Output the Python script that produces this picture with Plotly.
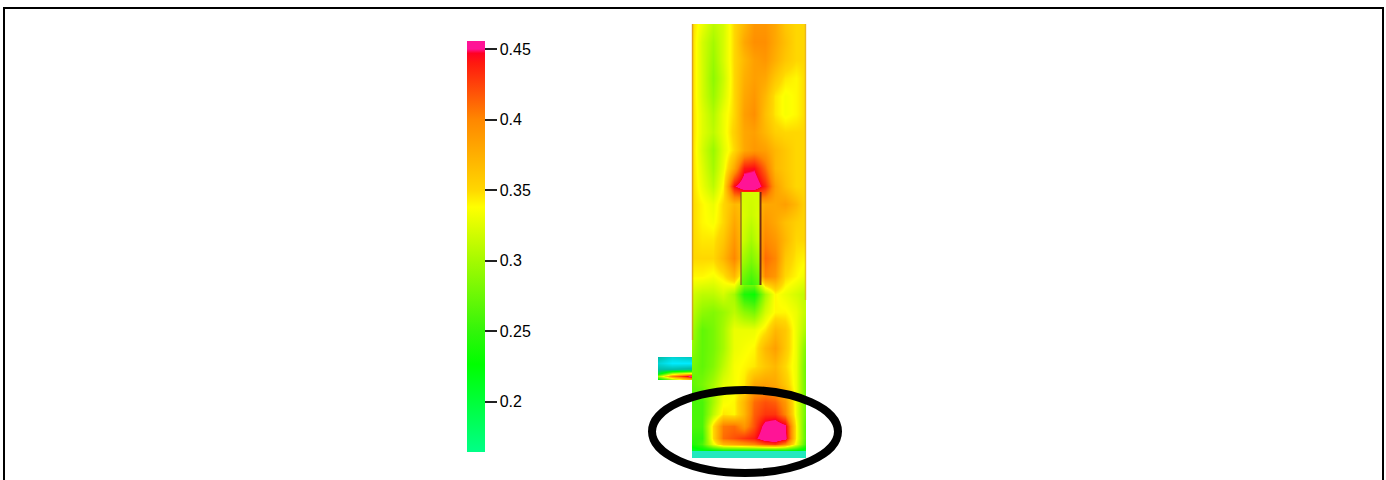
import plotly.graph_objects as go

# contour field of the main channel
x_cols = [692, 702.4, 712.7, 723.1, 733.5, 743.8, 754.2, 764.6, 775, 785.3, 795.7, 806]
y_rows = [24, 42, 60, 78, 96, 114, 132, 150, 168, 186, 204, 222, 240, 258, 276, 294, 312, 330,
          348, 366, 384, 402, 414, 426, 438, 444, 450, 458]
z_main = [
    [.35, .33, .31, .32, .35, .37, .39, .39, .38, .36, .35, .35],
    [.35, .32, .30, .32, .35, .38, .395, .395, .38, .365, .35, .35],
    [.35, .32, .295, .32, .35, .37, .385, .39, .375, .36, .35, .35],
    [.35, .32, .29, .315, .35, .375, .385, .38, .36, .345, .34, .35],
    [.35, .32, .295, .32, .35, .38, .39, .37, .345, .335, .34, .35],
    [.35, .325, .305, .33, .35, .385, .395, .365, .345, .335, .34, .35],
    [.35, .325, .31, .33, .355, .38, .385, .37, .355, .35, .35, .35],
    [.35, .32, .295, .325, .35, .38, .39, .385, .37, .36, .35, .35],
    [.35, .325, .30, .33, .38, .44, .445, .41, .37, .36, .35, .35],
    [.35, .33, .31, .34, .445, .47, .47, .435, .385, .365, .35, .35],
    [.35, .34, .33, .35, .37, .36, .36, .38, .38, .385, .37, .35],
    [.35, .34, .335, .35, .38, .36, .36, .39, .38, .365, .355, .35],
    [.35, .345, .345, .36, .39, .36, .36, .40, .39, .37, .35, .35],
    [.35, .35, .35, .37, .40, .36, .36, .41, .40, .36, .345, .34],
    [.34, .34, .335, .345, .37, .32, .32, .40, .39, .35, .34, .33],
    [.32, .31, .31, .32, .30, .24, .23, .30, .34, .33, .32, .31],
    [.31, .29, .285, .295, .31, .29, .28, .32, .34, .34, .33, .31],
    [.30, .27, .28, .30, .33, .33, .33, .345, .37, .36, .33, .30],
    [.29, .27, .28, .30, .33, .335, .34, .37, .385, .36, .33, .28],
    [.28, .27, .285, .31, .335, .34, .345, .36, .37, .35, .33, .27],
    [.27, .28, .30, .325, .335, .345, .38, .385, .38, .36, .33, .27],
    [.26, .26, .30, .335, .34, .37, .41, .42, .415, .39, .33, .27],
    [.26, .26, .31, .345, .34, .37, .415, .43, .43, .40, .33, .27],
    [.26, .26, .35, .405, .41, .39, .42, .46, .47, .455, .34, .26],
    [.25, .25, .35, .41, .42, .43, .44, .47, .475, .46, .34, .26],
    [.24, .26, .33, .37, .38, .39, .40, .42, .43, .40, .33, .25],
    [.21, .22, .23, .24, .24, .24, .24, .24, .24, .24, .23, .21],
    [.18, .175, .17, .17, .17, .17, .17, .17, .17, .17, .175, .18],
]

# the slot in the middle of the channel
x_slot = [741, 751, 760]
y_slot = [192, 215, 240, 262, 285]
z_slot = [
    [.32, .32, .32],
    [.325, .315, .325],
    [.32, .30, .32],
    [.30, .28, .30],
    [.27, .25, .27],
]

# inlet stub on the left wall
x_stub = [658, 672, 692]
y_stub = [357, 363, 369, 373, 376, 380]
z_stub = [
    [.14, .12, .13],
    [.12, .10, .10],
    [.14, .14, .15],
    [.20, .30, .34],
    [.30, .40, .46],
    [.20, .28, .36],
]

tick_vals = [0.2, 0.25, 0.3, 0.35, 0.4, 0.45]
tick_text = ["0.2", "0.25", "0.3", "0.35", "0.4", "0.45"]
z_low, z_high = 0.1643, 0.4557


def ramp(lo, hi, stops):
    return [[(z - lo) / (hi - lo), c] for z, c in stops]


main_stops = [
    (z_low, "rgb(0,255,135)"), (0.2266, "rgb(0,255,0)"), (0.25, "rgb(50,245,10)"),
    (0.30, "rgb(165,250,0)"), (0.338, "rgb(255,255,0)"), (0.35, "rgb(255,215,0)"),
    (0.40, "rgb(255,135,0)"), (0.44, "rgb(255,25,15)"), (0.447, "rgb(255,0,35)"),
    (0.45, "rgb(255,20,150)"), (z_high, "rgb(255,20,150)"),
]
stub_stops = [(0.10, "rgb(0,235,255)")] + [(0.14, "rgb(0,190,170)")] + main_stops[1:]

W, H = 1386, 480


def box_axes(x0, x1, y0, y1):
    ax_x = dict(domain=[x0 / W, x1 / W], range=[x0, x1], visible=False, fixedrange=True)
    ax_y = dict(domain=[1 - y1 / H, 1 - y0 / H], range=[y1, y0], visible=False, fixedrange=True)
    return ax_x, ax_y


def box_shape(kind, x0, y0, x1, y1, **style):
    return dict(type=kind, xref="paper", yref="paper", x0=x0 / W, x1=x1 / W,
                y0=1 - y0 / H, y1=1 - y1 / H, **style)


fig = go.Figure()
fig.add_trace(go.Heatmap(
    x=x_cols, y=y_rows, z=z_main, zmin=z_low, zmax=z_high, zsmooth="best",
    colorscale=ramp(z_low, z_high, main_stops), hoverinfo="skip",
    colorbar=dict(
        x=467 / W, xanchor="left", xpad=0, y=1 - 41 / H, yanchor="top", ypad=0,
        len=411, lenmode="pixels", thickness=18, thicknessmode="pixels",
        outlinewidth=0, borderwidth=0, ticks="outside", ticklen=12, tickwidth=1.5,
        tickcolor="#222", tickvals=tick_vals, ticktext=tick_text,
        tickfont=dict(family="Liberation Sans", size=16, color="#000"),
    ),
))
fig.add_trace(go.Heatmap(
    x=x_slot, y=y_slot, z=z_slot, zmin=z_low, zmax=z_high, zsmooth="best",
    colorscale=ramp(z_low, z_high, main_stops), showscale=False, hoverinfo="skip",
    xaxis="x2", yaxis="y2",
))
fig.add_trace(go.Heatmap(
    x=x_stub, y=y_stub, z=z_stub, zmin=0.10, zmax=z_high, zsmooth="best",
    colorscale=ramp(0.10, z_high, stub_stops), showscale=False, hoverinfo="skip",
    xaxis="x3", yaxis="y3",
))

shapes = [
    box_shape("rect", 692, 451, 806, 458, fillcolor="rgb(35,232,190)", line_width=0),
    box_shape("rect", 4, 8, 1383, 495, line=dict(color="black", width=2)),
    box_shape("circle", 652, 390, 838, 473, line=dict(color="black", width=8)),
    box_shape("line", 692.5, 24, 692.5, 340, line=dict(color="rgba(205,140,40,0.7)", width=1.5)),
    box_shape("line", 805.5, 24, 805.5, 300, line=dict(color="rgba(225,170,40,0.7)", width=1.5)),
    box_shape("line", 741, 192, 741, 285, line=dict(color="rgba(130,90,30,0.8)", width=1.5)),
    box_shape("line", 760.5, 192, 760.5, 285, line=dict(color="rgba(100,30,20,0.9)", width=2)),
]

ax1 = box_axes(692, 806, 24, 458)
ax2 = box_axes(741, 760, 192, 285)
ax3 = box_axes(658, 692, 357, 380)
fig.update_layout(
    width=W, height=H, margin=dict(l=0, r=0, t=0, b=0),
    paper_bgcolor="white", plot_bgcolor="rgba(0,0,0,0)", shapes=shapes, showlegend=False,
    xaxis=ax1[0], yaxis=ax1[1], xaxis2=ax2[0], yaxis2=ax2[1], xaxis3=ax3[0], yaxis3=ax3[1],
)
fig.write_html("out.html", config={"displayModeBar": False},
               post_script="document.body.style.margin='0';document.body.style.overflow='hidden';")
